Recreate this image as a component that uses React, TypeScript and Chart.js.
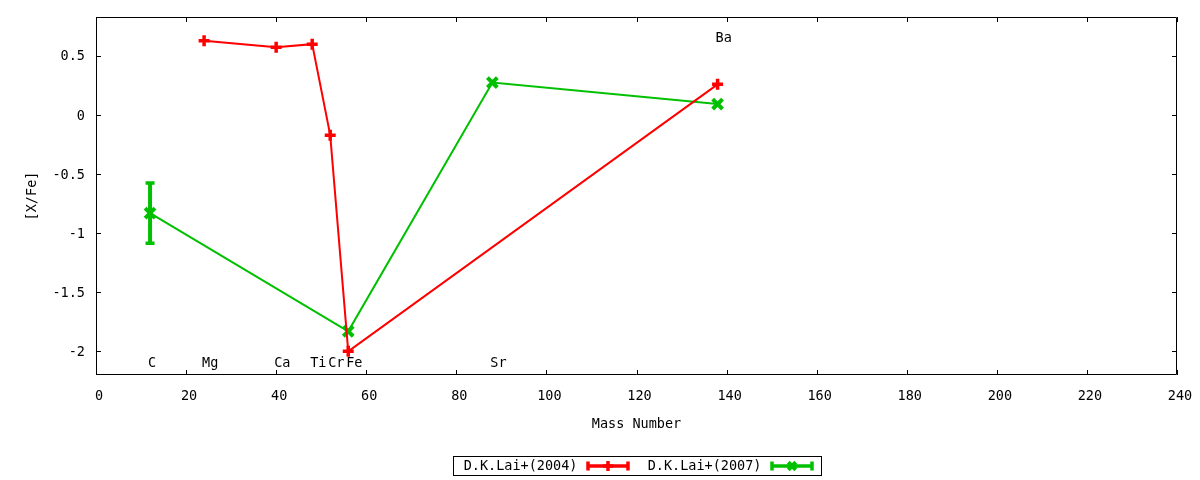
import { useEffect, useRef } from "react";
import { Chart, registerables } from "chart.js";

Chart.register(...registerables);

// ---- data ----
const seriesNames = ["D.K.Lai+(2004)", "D.K.Lai+(2007)"];
const seriesColors = ["#ff0000", "#00c000"];

const lai2004Mass = [24, 40, 48, 52, 56, 138];
const lai2004Value = [0.63, 0.575, 0.6, -0.17, -2.0, 0.26];
const lai2004Error = [0, 0, 0, 0, 0, 0];

const lai2007Mass = [12, 56, 88, 138];
const lai2007Value = [-0.83, -1.83, 0.275, 0.093];
const lai2007Error = [0.255, 0, 0, 0];

const elementNames = ["C", "Mg", "Ca", "Ti", "Cr", "Fe", "Sr", "Ba"];
const elementMass = [12, 24, 40, 48, 52, 56, 88, 138];
const elementLabelY = [-2.1, -2.1, -2.1, -2.1, -2.1, -2.1, -2.1, 0.65];

const xTicks = [0, 20, 40, 60, 80, 100, 120, 140, 160, 180, 200, 220, 240];
const yTicks = [-2, -1.5, -1, -0.5, 0, 0.5];
const xRange = [0, 240];
const yRange = [-2.2, 0.83];

const xTitle = "Mass Number";
const yTitle = "[X/Fe]";

const FONT_FAMILY = "'DejaVu Sans Mono', 'Liberation Mono', monospace";
const FONT_SIZE = 13.5;

const errorsByDataset = [lai2004Error, lai2007Error];
const pointStyles = ["cross", "crossRot"];

function drawMarker(ctx: CanvasRenderingContext2D, style: string, x: number, y: number, r: number) {
  ctx.beginPath();
  if (style === "cross") {
    ctx.moveTo(x - r, y);
    ctx.lineTo(x + r, y);
    ctx.moveTo(x, y - r);
    ctx.lineTo(x, y + r);
  } else {
    const d = r * 0.75;
    ctx.moveTo(x - d, y - d);
    ctx.lineTo(x + d, y + d);
    ctx.moveTo(x - d, y + d);
    ctx.lineTo(x + d, y - d);
  }
  ctx.stroke();
}

const gnuplotPlugin = {
  id: "gnuplotDecor",
  afterDatasetsDraw(chart: any) {
    const { ctx, chartArea, scales } = chart;
    const xs = scales.x;
    const ys = scales.y;
    const { left, right, top, bottom } = chartArea;

    // error bars
    chart.data.datasets.forEach((ds: any, i: number) => {
      const errs = errorsByDataset[i];
      ctx.save();
      ctx.strokeStyle = ds.borderColor;
      ds.data.forEach((pt: any, j: number) => {
        const e = errs[j];
        if (!e) return;
        const px = xs.getPixelForValue(pt.x);
        const yTop = ys.getPixelForValue(pt.y + e);
        const yBot = ys.getPixelForValue(pt.y - e);
        ctx.lineWidth = 4;
        ctx.beginPath();
        ctx.moveTo(px, yTop);
        ctx.lineTo(px, yBot);
        ctx.stroke();
        ctx.lineWidth = 3.5;
        ctx.beginPath();
        ctx.moveTo(px - 4.5, yTop);
        ctx.lineTo(px + 4.5, yTop);
        ctx.moveTo(px - 4.5, yBot);
        ctx.lineTo(px + 4.5, yBot);
        ctx.stroke();
      });
      ctx.restore();
    });

    // frame + inward ticks
    ctx.save();
    ctx.strokeStyle = "#000";
    ctx.lineWidth = 1;
    ctx.beginPath();
    ctx.rect(left + 0.5, top + 0.5, right - left - 1, bottom - top - 1);
    ctx.stroke();
    const tl = 5;
    ctx.beginPath();
    xTicks.forEach((v) => {
      const px = Math.round(xs.getPixelForValue(v)) + 0.5;
      ctx.moveTo(px, bottom);
      ctx.lineTo(px, bottom - tl);
      ctx.moveTo(px, top);
      ctx.lineTo(px, top + tl);
    });
    yTicks.forEach((v) => {
      const py = Math.round(ys.getPixelForValue(v)) + 0.5;
      ctx.moveTo(left, py);
      ctx.lineTo(left + tl, py);
      ctx.moveTo(right, py);
      ctx.lineTo(right - tl, py);
    });
    ctx.stroke();

    // element labels
    ctx.fillStyle = "#000";
    ctx.font = `${FONT_SIZE}px ${FONT_FAMILY}`;
    ctx.textAlign = "left";
    ctx.textBaseline = "middle";
    elementNames.forEach((name, i) => {
      const px = xs.getPixelForValue(elementMass[i]) - 2;
      const py = ys.getPixelForValue(elementLabelY[i]);
      ctx.fillText(name, px, py);
    });
    ctx.restore();
  },
  afterDraw(chart: any) {
    const { ctx, chartArea } = chart;
    const center = (chartArea.left + chartArea.right) / 2;
    const entryW = 184;
    const boxW = entryW * seriesNames.length;
    const boxL = Math.round(center - boxW / 2) + 0.5;
    const boxT = 456.5;
    const boxH = 19;
    const cy = boxT + boxH / 2;
    ctx.save();
    ctx.strokeStyle = "#000";
    ctx.lineWidth = 1;
    ctx.strokeRect(boxL, boxT, boxW, boxH);
    ctx.font = `${FONT_SIZE}px ${FONT_FAMILY}`;
    ctx.textAlign = "right";
    ctx.textBaseline = "middle";
    seriesNames.forEach((name, i) => {
      const textRight = boxL + 124 + i * entryW;
      ctx.fillStyle = "#000";
      ctx.fillText(name, textRight, cy);
      const s0 = textRight + 9;
      const s1 = s0 + 43;
      const color = seriesColors[i];
      ctx.strokeStyle = color;
      ctx.lineWidth = 3.5;
      ctx.beginPath();
      ctx.moveTo(s0, cy);
      ctx.lineTo(s1, cy);
      ctx.moveTo(s0 + 1.5, cy - 4.5);
      ctx.lineTo(s0 + 1.5, cy + 4.5);
      ctx.moveTo(s1 - 1.5, cy - 4.5);
      ctx.lineTo(s1 - 1.5, cy + 4.5);
      ctx.stroke();
      ctx.lineWidth = i === 0 ? 3.5 : 4;
      drawMarker(ctx, pointStyles[i], (s0 + s1) / 2, cy, 5);
    });
    ctx.restore();
  },
};

export default function App() {
  const ref = useRef<HTMLCanvasElement | null>(null);

  useEffect(() => {
    if (!ref.current) return;
    const makeData = (m: number[], v: number[]) => m.map((x, i) => ({ x, y: v[i] }));
    const chart = new Chart(ref.current, {
      type: "scatter",
      data: {
        datasets: [
          {
            label: seriesNames[0],
            data: makeData(lai2004Mass, lai2004Value),
            showLine: true,
            borderColor: seriesColors[0],
            backgroundColor: seriesColors[0],
            borderWidth: 2,
            pointStyle: "cross",
            pointRadius: 5.5,
            pointBorderWidth: 3.5,
            pointHoverRadius: 5.5,
          },
          {
            label: seriesNames[1],
            data: makeData(lai2007Mass, lai2007Value),
            showLine: true,
            borderColor: seriesColors[1],
            backgroundColor: seriesColors[1],
            borderWidth: 2,
            pointStyle: "crossRot",
            pointRadius: 7,
            pointBorderWidth: 4,
            pointHoverRadius: 7,
          },
        ],
      },
      options: {
        animation: false,
        responsive: true,
        maintainAspectRatio: false,
        events: [],
        layout: { padding: { left: 0, right: 23, top: 17, bottom: 0 } },
        plugins: {
          legend: { display: false },
          tooltip: { enabled: false },
        },
        scales: {
          x: {
            type: "linear",
            min: xRange[0],
            max: xRange[1],
            grid: { display: false },
            border: { display: false },
            afterBuildTicks: (s: any) => {
              s.ticks = xTicks.map((v) => ({ value: v }));
            },
            afterFit: (s: any) => {
              s.height = 105;
            },
            ticks: {
              color: "#000",
              padding: 5,
              labelOffset: 3,
              maxRotation: 0,
              autoSkip: false,
              font: { family: FONT_FAMILY, size: FONT_SIZE },
              callback: (v: any) => String(v),
            },
            title: {
              display: true,
              text: xTitle,
              color: "#000",
              font: { family: FONT_FAMILY, size: FONT_SIZE },
              padding: { top: 0, bottom: 47 },
            },
          },
          y: {
            type: "linear",
            min: yRange[0],
            max: yRange[1],
            grid: { display: false },
            border: { display: false },
            afterBuildTicks: (s: any) => {
              s.ticks = yTicks.map((v) => ({ value: v }));
            },
            afterFit: (s: any) => {
              s.width = 96;
            },
            ticks: {
              color: "#000",
              padding: 3,
              labelOffset: 1,
              autoSkip: false,
              font: { family: FONT_FAMILY, size: FONT_SIZE },
              callback: (v: any) => String(v),
            },
            title: {
              display: true,
              text: yTitle,
              color: "#000",
              font: { family: FONT_FAMILY, size: FONT_SIZE },
              padding: { top: 24, bottom: 0 },
            },
          },
        },
      },
      plugins: [gnuplotPlugin],
    } as any);
    return () => chart.destroy();
  }, []);

  return (
    <div style={{ position: "absolute", left: 0, top: 0, width: 1200, height: 480, background: "#fff" }}>
      <canvas ref={ref} />
    </div>
  );
}
